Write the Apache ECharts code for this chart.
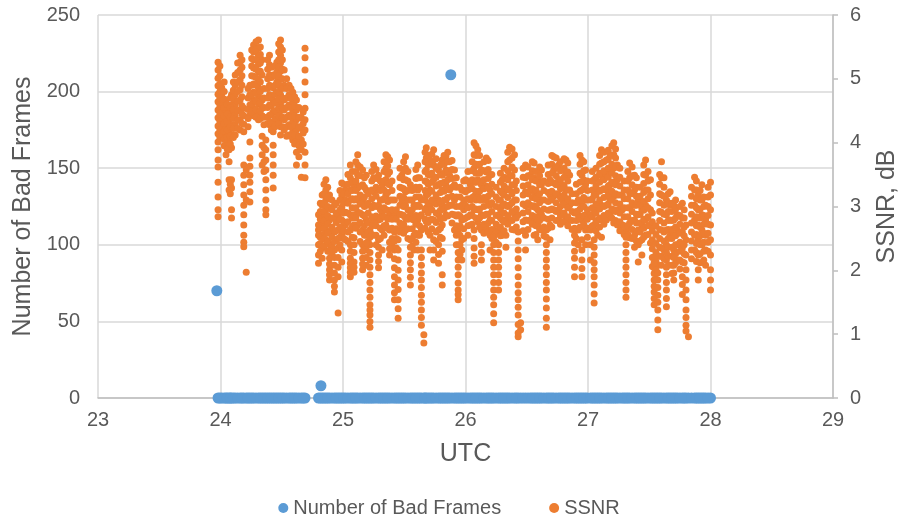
<!DOCTYPE html>
<html><head><meta charset="utf-8">
<script src="https://cdn.jsdelivr.net/npm/echarts/dist/echarts.min.js"></script>
<style>html,body{margin:0;padding:0;background:#fff}#c{width:898px;height:525px}</style>
</head><body><div id="c"></div>
<script>
// x axis ticks (UTC day)
const xTicks = [23, 24, 25, 26, 27, 28, 29];
const leftTicks = [0, 50, 100, 150, 200, 250];
const rightTicks = [0, 1, 2, 3, 4, 5, 6];

// Number of Bad Frames: non-zero samples (all other samples are 0)
const badFramesNonZero = [[23.97, 70], [24.82, 8], [25.88, 211]];

// SSNR, dB samples grouped as [time, [values...]]
const ssnrDay24 = [
[23.98,[5.26,5.14,5.01,4.89,4.76,4.64,4.51,4.39,4.26,4.14,4.01,3.89,3.73,3.62,3.38,3.15,2.95,2.84]],
[24.01,[4.86,4.73,4.61,4.48,4.36,4.23,4.10]],
[24.045,[4.67,4.51,4.39,4.26,4.14,3.96,3.81]],
[24.07,[4.48,4.32,4.17,4.01,3.89,3.70,3.42,3.26]],
[24.09,[4.75,4.59,4.43,4.28,4.12,3.92,3.42,3.29,2.95,2.82]],
[24.12,[5.06,4.90,4.75,4.59,4.43,4.28,4.12]],
[24.16,[5.37,5.26,5.14,4.98,4.83,4.67,4.51,4.36,4.20]],
[24.19,[4.54,4.42,4.29,4.17,3.65,3.49,3.34,3.18,3.02,2.87,2.71,2.55,2.44,2.37]],
[24.21,[3.57,3.10,1.97]],
[24.24,[4.90,4.75,4.59,4.43,4.01,3.76,3.63,3.49,3.38,3.23,3.07]],
[24.27,[5.53,5.42,5.30,5.17,5.04,4.92,4.79,4.67,4.54,4.42]],
[24.31,[5.61,5.48,5.36,5.23,5.11,4.98,4.86,4.73,4.61,4.48,4.36]],
[24.34,[5.30,5.06,4.67,4.54,4.42,4.10,3.96,3.81,3.65]],
[24.37,[4.04,3.89,3.73,3.57,3.42,3.26,3.10,2.95,2.87]],
[24.40,[5.37,5.22,5.06,4.90,4.75,4.59,4.43,4.28]],
[24.43,[5.06,4.86,4.67,4.48,4.29,4.17,3.96,3.81,3.65,3.49,3.29]],
[24.46,[5.26,5.11,4.95,4.79,4.64,4.48,4.32]],
[24.49,[5.61,5.50,5.37,5.25,5.12,5.00,4.87,4.75,4.62,4.50,4.37,4.25,4.12]],
[24.52,[5.14,4.90,4.67,4.51,4.36,4.20]],
[24.56,[4.90,4.75,4.59,4.43,4.28,4.12]],
[24.59,[4.79,4.64,4.48,4.32,4.17,4.04]],
[24.62,[4.67,4.51,4.36,4.20,4.04,3.85,3.65]],
[24.66,[4.39,4.23,4.04,3.89,3.46]],
[24.69,[5.48,5.33,5.14,4.95,4.75,4.54,4.36,4.20,3.85,3.65,3.45]]
];
const ssnrDay24b = [
[23.995,[5.20,5.05,4.92,4.80,4.70,4.58,4.45,4.33,4.20,4.08]],
[24.03,[4.95,4.80,4.68,4.55,4.42,4.30,4.18,4.05,3.95]],
[24.055,[4.60,4.45,4.33,4.20,4.08,3.90]],
[24.08,[4.70,4.55,4.40,4.25,4.10,3.98,3.35,3.20]],
[24.105,[4.95,4.82,4.68,4.52,4.38,4.22,4.08]],
[24.14,[5.25,5.10,4.95,4.80,4.65,4.50,4.35,4.22]],
[24.175,[5.30,5.18,5.05,4.90,4.72,4.58,4.45,4.30]],
[24.225,[4.85,4.70,4.52,4.38,4.25]],
[24.255,[5.45,5.32,5.20,5.05,4.90,4.75,4.60,4.48]],
[24.29,[5.58,5.45,5.30,5.15,5.02,4.90,4.78,4.65,4.52,4.40]],
[24.325,[5.50,5.38,5.25,5.12,4.95,4.80,4.62,4.50,4.38]],
[24.355,[4.85,4.70,4.55,4.40,4.28,3.92,3.70,3.55]],
[24.385,[5.30,5.15,5.00,4.85,4.70,4.55,4.40,4.30]],
[24.415,[5.18,5.02,4.88,4.72,4.58,4.44,4.32,4.20]],
[24.445,[5.20,5.05,4.90,4.76,4.62,4.50,4.38,4.25]],
[24.475,[5.55,5.42,5.30,5.18,5.05,4.92,4.80,4.68,4.55,4.42,4.30]],
[24.505,[5.45,5.30,5.15,5.00,4.85,4.70,4.55,4.40,4.25]],
[24.54,[5.00,4.85,4.70,4.55,4.40,4.25,4.10]],
[24.575,[4.85,4.70,4.55,4.40,4.25,4.10]],
[24.605,[4.72,4.58,4.42,4.28,4.12,3.98]],
[24.64,[4.55,4.40,4.25,4.10,3.95,3.78]],
[24.675,[4.48,4.30,4.15,3.98]]
];
const ssnrDay25 = [
[24.80,[2.87,2.71,2.63,2.55,2.40,2.24,2.11]],
[24.83,[3.18,3.02,2.87,2.71,2.55,2.35,2.19]],
[24.86,[3.42,3.26,3.10,2.95,2.79,2.63,2.48]],
[24.89,[3.18,2.98,2.79,2.60,2.40,2.19,2.01,1.85]],
[24.93,[3.02,2.82,2.60,2.32,2.08,1.85,1.66]],
[24.96,[2.87,2.63,2.35,1.33]],
[24.99,[3.37,3.18,2.99,2.79,2.55,2.32,2.13]],
[25.02,[3.26,3.10,2.91,2.71,2.48]],
[25.06,[3.65,3.45,3.26,3.10,2.87,2.63,2.19,2.04,1.90]],
[25.09,[3.34,3.10,2.87,2.71,2.51,2.13,1.97]],
[25.12,[3.81,3.65,3.49,3.29,3.10,2.91,2.71]],
[25.16,[3.57,3.34,3.10,2.87,2.63,2.40,2.19,2.01]],
[25.19,[3.49,3.26,3.02,2.79,2.55,2.32,2.08]],
[25.22,[2.63,2.40,2.16,1.93,1.69,1.46,1.30,1.11]],
[25.25,[3.65,3.45,3.23,3.02,2.79,2.55]],
[25.29,[3.49,3.26,3.02,2.79,2.48,2.24,2.04]],
[25.32,[3.34,3.10,2.87,2.63,2.32]],
[25.35,[3.81,3.60,3.42,3.18,2.95,2.71]],
[25.38,[3.73,3.54,3.34,3.10,2.87,2.63,2.24]],
[25.42,[3.10,2.87,2.60,2.32,2.04,1.77,1.54]],
[25.45,[2.48,2.16,1.85,1.54,1.25]],
[25.48,[3.49,3.29,3.10,2.87,2.66]],
[25.51,[3.78,3.60,3.42,3.23,3.02,2.82,2.63]],
[25.55,[3.34,3.10,2.87,2.48,2.24,2.01,1.77]],
[25.58,[3.02,2.79,2.55,2.32]],
[25.61,[3.65,3.45,3.26,3.02,2.79,2.55,2.32]],
[25.64,[3.10,2.87,2.63,2.32,2.08,1.85,1.61,1.38,1.14]],
[25.66,[0.99,0.86]],
[25.68,[3.92,3.76,3.57,3.39,3.18,2.98,2.76]],
[25.71,[3.73,3.49,3.26,3.02,2.79,2.55,2.32]],
[25.74,[3.89,3.65,3.42,3.10,2.79,2.48,2.16]],
[25.78,[3.57,3.34,3.10,2.87,2.63,2.40,2.11]],
[25.81,[3.73,3.49,3.26,3.02,2.71,1.93,1.77]],
[25.84,[3.78,3.57,3.34,3.10,2.87]],
[25.87,[3.70,3.49,3.26,3.02]],
[25.91,[3.57,3.34,3.10,2.87,2.63]],
[25.94,[2.87,2.63,2.40,2.16,1.93,1.69,1.54]],
[25.97,[3.26,3.02,2.79,2.48,2.16]]
];
const ssnrDay25b = [
[24.815,[3.05,2.92,2.80,2.66,2.52,2.42,2.30]],
[24.845,[3.35,3.20,3.05,2.92,2.78,2.65,2.50,2.38]],
[24.875,[3.30,3.15,3.00,2.86,2.72,2.58,2.45,2.30]],
[24.91,[3.10,2.95,2.82,2.68,2.52,2.38,2.25]],
[24.945,[3.05,2.90,2.75,2.62,2.48]],
[24.975,[3.25,3.10,2.95,2.80,2.68,2.52,2.40]],
[25.005,[3.35,3.20,3.05,2.90,2.76,2.62,2.50]],
[25.04,[3.50,3.35,3.20,3.05,2.90,2.76,2.60,2.45]],
[25.075,[3.55,3.40,3.25,3.12,2.98,2.82,2.68,2.52]],
[25.105,[3.70,3.55,3.40,3.25,3.12,2.98,2.82,2.66]],
[25.14,[3.62,3.48,3.32,3.18,3.04,2.90,2.75,2.60,2.45]],
[25.175,[3.45,3.30,3.15,3.00,2.85,2.70,2.55,2.40]],
[25.205,[3.20,3.05,2.90,2.75,2.60,2.45]],
[25.235,[3.55,3.40,3.26,3.12,2.98,2.84,2.70,2.56]],
[25.27,[3.58,3.44,3.30,3.16,3.00,2.85,2.70,2.55,2.40]],
[25.305,[3.40,3.25,3.10,2.95,2.80,2.66,2.50]],
[25.335,[3.70,3.55,3.40,3.26,3.12,2.98,2.84,2.70,2.55]],
[25.365,[3.78,3.64,3.50,3.36,3.22,3.08,2.94,2.80,2.66]],
[25.40,[3.40,3.25,3.10,2.95,2.80,2.66,2.50,2.38]],
[25.435,[2.95,2.80,2.65,2.50,2.35]],
[25.465,[3.60,3.45,3.30,3.16,3.02,2.88,2.74,2.60]],
[25.495,[3.70,3.56,3.42,3.28,3.14,3.00,2.86,2.72,2.58]],
[25.53,[3.55,3.40,3.25,3.10,2.95,2.80,2.65,2.50]],
[25.565,[3.25,3.10,2.95,2.80,2.65,2.50,2.38]],
[25.595,[3.58,3.44,3.30,3.15,3.00,2.86,2.72,2.58,2.44]],
[25.625,[3.45,3.30,3.15,3.00,2.85,2.70,2.55]],
[25.67,[3.85,3.70,3.55,3.40,3.25,3.10,2.95,2.80,2.66]],
[25.695,[3.80,3.65,3.50,3.35,3.20,3.05,2.90,2.75,2.60]],
[25.725,[3.82,3.68,3.52,3.38,3.24,3.10,2.95,2.80,2.65]],
[25.76,[3.75,3.60,3.46,3.32,3.18,3.04,2.90,2.75,2.60,2.45]],
[25.795,[3.65,3.50,3.36,3.22,3.08,2.94,2.80,2.66,2.52]],
[25.825,[3.80,3.66,3.52,3.38,3.24,3.10,2.96,2.82]],
[25.855,[3.85,3.70,3.56,3.42,3.28,3.14,3.00,2.85]],
[25.89,[3.72,3.58,3.44,3.30,3.16,3.02,2.88,2.74]],
[25.925,[3.45,3.30,3.15,3.00,2.85,2.70,2.55,2.40]],
[25.955,[3.30,3.15,3.00,2.85,2.70,2.55,2.40,2.25]],
[25.985,[3.40,3.25,3.10,2.95,2.80,2.65,2.50]]
];
const ssnrDay26 = [
[26.00,[3.42,3.23,3.02,2.82]],
[26.04,[3.34,3.10,2.87,2.71]],
[26.07,[4.00,3.81,3.60,3.38,3.16,2.95,2.63,2.11]],
[26.10,[3.89,3.65,3.42,3.18,2.95,2.76]],
[26.13,[3.57,3.34,3.10,2.87,2.63,2.40,2.16]],
[26.17,[3.76,3.54,3.32,3.10,2.88,2.66]],
[26.20,[3.49,3.26,3.02,2.79,2.55,2.32]],
[26.23,[2.63,2.40,2.16,1.93,1.69,1.46,1.18]],
[26.27,[3.10,2.87,2.63,2.40,2.16,1.93,1.69]],
[26.30,[3.42,3.21,3.01,2.79,2.55]],
[26.33,[3.26,3.02,2.79,2.55,2.36]],
[26.36,[3.93,3.73,3.49,3.26,3.02,2.79]],
[26.40,[3.81,3.57,3.34,3.10,2.87,2.63]],
[26.43,[2.87,2.60,2.32,2.04,1.77,1.54,1.30,0.96]],
[26.45,[1.18,1.07]],
[26.49,[3.65,3.45,3.23,3.01,2.79,2.55,2.32]],
[26.53,[3.49,3.26,3.02,2.79]],
[26.56,[3.68,3.45,3.23,3.01,2.79,2.55]],
[26.59,[3.42,3.18,2.95,2.71,2.48]],
[26.62,[3.57,3.34,3.10,2.87,2.63]],
[26.66,[2.63,2.40,2.16,1.93,1.69,1.41,1.11]],
[26.69,[3.42,3.18,2.95,2.71,2.48]],
[26.72,[3.78,3.57,3.37,3.16,2.95]],
[26.76,[3.65,3.42,3.18,2.95,2.79]],
[26.79,[3.57,3.34,3.10,2.87]],
[26.82,[3.73,3.49,3.26,3.02,2.82]],
[26.85,[3.49,3.26,3.02,2.79]],
[26.89,[2.90,2.66,2.43,2.19,1.90]],
[26.92,[3.10,2.87,2.63,2.40]],
[26.95,[3.73,3.49,3.26,3.02,2.79,2.48,2.16,1.90]],
[26.98,[3.57,3.34,3.10,2.87,2.63,2.40]]
];
const ssnrDay26b = [
[26.02,[3.55,3.40,3.26,3.12,2.98,2.84,2.70,2.55]],
[26.055,[3.70,3.56,3.42,3.28,3.14,3.00,2.86,2.72]],
[26.085,[3.95,3.80,3.66,3.52,3.38,3.24,3.10,2.96,2.82]],
[26.115,[3.80,3.66,3.52,3.38,3.24,3.10,2.96,2.82,2.68]],
[26.15,[3.70,3.56,3.42,3.28,3.14,3.00,2.86,2.72,2.58]],
[26.185,[3.72,3.58,3.44,3.30,3.16,3.02,2.88,2.74,2.60]],
[26.215,[3.50,3.35,3.20,3.06,2.92,2.78,2.64,2.50]],
[26.25,[3.30,3.15,3.00,2.86,2.72,2.58,2.44]],
[26.285,[3.52,3.38,3.24,3.10,2.96,2.82,2.68,2.54]],
[26.315,[3.60,3.46,3.32,3.18,3.04,2.90,2.76,2.62]],
[26.345,[3.85,3.70,3.56,3.42,3.28,3.14,3.00,2.86,2.72]],
[26.38,[3.90,3.76,3.62,3.48,3.34,3.20,3.06,2.92,2.78,2.64]],
[26.415,[3.40,3.25,3.10,2.96,2.82,2.68]],
[26.47,[3.60,3.46,3.32,3.18,3.04,2.90,2.76,2.62]],
[26.51,[3.62,3.48,3.34,3.20,3.06,2.92,2.78,2.64]],
[26.545,[3.70,3.56,3.42,3.28,3.14,3.00,2.86,2.72]],
[26.575,[3.55,3.40,3.26,3.12,2.98,2.84,2.70,2.56]],
[26.605,[3.62,3.48,3.34,3.20,3.06,2.92,2.78,2.64]],
[26.64,[3.40,3.25,3.10,2.96,2.82,2.68,2.54]],
[26.675,[3.65,3.50,3.36,3.22,3.08,2.94,2.80,2.66]],
[26.705,[3.80,3.66,3.52,3.38,3.24,3.10,2.96,2.82,2.68]],
[26.74,[3.76,3.62,3.48,3.34,3.20,3.06,2.92,2.78]],
[26.775,[3.70,3.56,3.42,3.28,3.14,3.00,2.86,2.72]],
[26.805,[3.75,3.60,3.46,3.32,3.18,3.04,2.90,2.76]],
[26.835,[3.68,3.54,3.40,3.26,3.12,2.98,2.84,2.70]],
[26.87,[3.20,3.06,2.92,2.78,2.64]],
[26.905,[3.35,3.20,3.06,2.92,2.78,2.64,2.50]],
[26.935,[3.80,3.66,3.52,3.38,3.24,3.10,2.96,2.82,2.68]],
[26.965,[3.70,3.56,3.42,3.28,3.14,3.00,2.86,2.72]],
[26.995,[3.40,3.25,3.10,2.95,2.80,2.66,2.52]]
];
const ssnrDay27 = [
[27.02,[3.10,2.87,2.63,2.40,2.16]],
[27.05,[3.42,3.18,2.95,2.71,2.48,2.24,2.01,1.77,1.49]],
[27.08,[3.26,3.02,2.79,2.55]],
[27.11,[3.89,3.68,3.48,3.26,3.02,2.79,2.52]],
[27.15,[3.73,3.49,3.26,3.02,2.79]],
[27.18,[3.81,3.57,3.34,3.10,2.87]],
[27.21,[4.00,3.81,3.60,3.38,3.16,2.95,2.74]],
[27.24,[3.65,3.42,3.18,2.95,2.71]],
[27.28,[3.18,2.95,2.71]],
[27.31,[2.63,2.40,2.16,1.93,1.69,1.58]],
[27.34,[3.68,3.45,3.21,2.98,2.74,2.51]],
[27.38,[3.49,3.26,3.02,2.79,2.55,2.36]],
[27.41,[3.10,2.87,2.63,2.40,2.13]],
[27.44,[2.95,2.71,2.48,2.24]],
[27.47,[3.73,3.49,3.26,3.02,2.79,2.55]],
[27.51,[3.42,3.18,2.95,2.71,2.43]],
[27.54,[2.21,2.04,1.85,1.66,1.46]],
[27.57,[2.08,1.85,1.61,1.38,1.07]],
[27.60,[3.70,3.45,3.18,2.91,2.63,2.35,2.08]],
[27.64,[3.10,2.87,2.63,2.40,2.16,1.93,1.69,1.43]],
[27.67,[3.23,3.02,2.79,2.55]],
[27.70,[3.02,2.79,2.55,2.32,2.08,1.85]],
[27.73,[2.87,2.63,2.40,2.16]],
[27.77,[3.05,2.82,2.60,2.35,2.13,1.90]],
[27.80,[2.71,2.48,2.24,2.01,1.69,1.38,1.14]],
[27.82,[0.96]],
[27.87,[3.46,3.26,3.02,2.79,2.55,2.32]],
[27.90,[3.18,2.95,2.71,2.48,2.24,2.01,1.85]],
[27.93,[3.34,3.10,2.87,2.63,2.40]],
[27.96,[3.02,2.79,2.55,2.32,2.08]],
[28.00,[3.38,3.18,2.95,2.71,2.48,2.24,2.01,1.69]]
];
const ssnrDay27b = [
[27.035,[3.55,3.40,3.26,3.12,2.98,2.84,2.70]],
[27.065,[3.60,3.46,3.32,3.18,3.04,2.90,2.76,2.62]],
[27.095,[3.80,3.66,3.52,3.38,3.24,3.10,2.96,2.82,2.68]],
[27.13,[3.85,3.70,3.56,3.42,3.28,3.14,3.00,2.86,2.72]],
[27.165,[3.88,3.74,3.60,3.46,3.32,3.18,3.04,2.90]],
[27.195,[3.95,3.80,3.66,3.52,3.38,3.24,3.10,2.96,2.82]],
[27.225,[3.90,3.76,3.62,3.48,3.34,3.20,3.06,2.92,2.78]],
[27.26,[3.60,3.46,3.32,3.18,3.04,2.90,2.76,2.62]],
[27.295,[3.40,3.26,3.12,2.98,2.84,2.70,2.56]],
[27.325,[3.55,3.40,3.26,3.12,2.98,2.84,2.70,2.56]],
[27.36,[3.62,3.48,3.34,3.20,3.06,2.92,2.78,2.64,2.50]],
[27.395,[3.45,3.30,3.16,3.02,2.88,2.74,2.60,2.46]],
[27.425,[3.30,3.16,3.02,2.88,2.74,2.60,2.46]],
[27.455,[3.65,3.50,3.36,3.22,3.08,2.94,2.80,2.66,2.52]],
[27.49,[3.55,3.40,3.26,3.12,2.98,2.84,2.70,2.56]],
[27.525,[2.90,2.76,2.62,2.48,2.34,2.20,2.06]],
[27.555,[2.70,2.56,2.42,2.28,2.14,2.00,1.86]],
[27.585,[3.50,3.35,3.20,3.06,2.92,2.78,2.64,2.50,2.36,2.22]],
[27.62,[3.45,3.30,3.16,3.02,2.88,2.74,2.60,2.46,2.32,2.18]],
[27.655,[3.20,3.06,2.92,2.78,2.64,2.50,2.36,2.22,2.08]],
[27.685,[3.05,2.92,2.78,2.64,2.50,2.36,2.22,2.08,1.95]],
[27.715,[3.10,2.96,2.82,2.68,2.54,2.40,2.26,2.12]],
[27.75,[3.00,2.86,2.72,2.58,2.44,2.30,2.16,2.02]],
[27.785,[2.95,2.82,2.68,2.54,2.40,2.26,2.12]],
[27.845,[3.30,3.16,3.02,2.88,2.74,2.60,2.46,2.32,2.18]],
[27.885,[3.40,3.26,3.12,2.98,2.84,2.70,2.56,2.42,2.28,2.14]],
[27.915,[3.25,3.10,2.96,2.82,2.68,2.54,2.40,2.26,2.12]],
[27.945,[3.15,3.00,2.86,2.72,2.58,2.44,2.30,2.16]],
[27.98,[3.30,3.15,3.00,2.86,2.72,2.58,2.44,2.30]]
];
// extra samples read along the long downward runs (low-SSNR dips)
const ssnrLowRuns = [
[24.89,[2.30,2.10,1.93]],
[24.93,[2.45,2.20,1.96,1.75]],
[24.96,[2.50,2.20,2.05,1.90]],
[25.06,[2.40,2.30,2.11,1.97]],
[25.09,[2.40,2.28,2.05]],
[25.16,[2.30,2.10]],
[25.19,[2.43,2.20]],
[25.22,[2.52,2.28,2.05,1.81,1.58,1.38,1.20]],
[25.29,[2.36,2.14]],
[25.38,[2.44,2.34]],
[25.42,[2.46,2.18,1.90,1.65]],
[25.45,[2.32,2.00,1.70,1.40]],
[25.55,[2.36,2.12,1.89]],
[25.64,[2.20,1.96,1.73,1.50,1.26]],
[25.74,[2.32]],
[25.78,[2.25]],
[25.81,[2.50,2.30]],
[25.94,[2.28,2.05,1.80,1.62]],
[25.97,[2.32]],
[26.07,[2.50,2.35,2.22]],
[26.13,[2.28]],
[26.23,[2.52,2.28,2.05,1.81,1.58,1.32]],
[26.27,[2.28,2.05,1.81]],
[26.43,[2.46,2.18,1.90,1.65,1.42,1.15,1.02]],
[26.66,[2.52,2.28,2.05,1.81,1.55,1.25]],
[26.89,[2.55,2.30,2.05]],
[26.95,[2.32,2.03]],
[27.05,[2.36,2.12,1.90,1.63]],
[27.31,[2.52,2.28,2.05,1.81]],
[27.54,[2.12,1.95,1.75,1.56]],
[27.57,[1.96,1.73,1.50,1.22]],
[27.60,[2.22]],
[27.64,[2.28,2.05,1.81,1.56]],
[27.70,[2.20,1.96]],
[27.77,[1.78,1.62]],
[27.80,[1.85,1.54,1.26,1.05]],
[28.00,[1.85]]
];

const ssnrGroups = [].concat(ssnrDay24, ssnrDay24b, ssnrDay25, ssnrDay25b, ssnrDay26, ssnrDay26b, ssnrDay27, ssnrDay27b);
const ssnrPoints = [];
ssnrGroups.concat(ssnrLowRuns).forEach(g => g[1].forEach(v => ssnrPoints.push([g[0], v])));
const badPoints = ssnrGroups.map(g => [g[0], 0]).concat(badFramesNonZero);

const FONT = 'Liberation Sans, Arial, sans-serif';
const TXT = '#595959';
const chart = echarts.init(document.getElementById('c'), null, {renderer: 'canvas'});
chart.setOption({
  animation: false,
  backgroundColor: '#fff',
  grid: {left: 98, right: 65, top: 15, bottom: 127, containLabel: false, outerBoundsMode: 'none'},
  legend: {
    bottom: 2, left: 'center', itemGap: 48, itemWidth: 10, itemHeight: 10,
    icon: 'circle',
    textStyle: {fontFamily: FONT, fontSize: 20, color: TXT},
    data: ['Number of Bad Frames', 'SSNR']
  },
  xAxis: {
    type: 'value', min: xTicks[0], max: xTicks[xTicks.length - 1], interval: 1,
    name: 'UTC', nameLocation: 'middle', nameGap: 44,
    nameTextStyle: {fontFamily: FONT, fontSize: 25, color: TXT},
    axisLine: {show: true, lineStyle: {color: '#BFBFBF', width: 1.5}},
    axisTick: {show: false},
    axisLabel: {fontFamily: FONT, fontSize: 20, color: TXT, margin: 12},
    splitLine: {show: true, lineStyle: {color: '#D9D9D9', width: 1.5}}
  },
  yAxis: [{
    type: 'value', min: leftTicks[0], max: leftTicks[leftTicks.length - 1], interval: 50,
    name: 'Number of Bad Frames', nameLocation: 'middle', nameGap: 62, nameRotate: 90,
    nameTextStyle: {fontFamily: FONT, fontSize: 25, color: TXT},
    axisLine: {show: false}, axisTick: {show: false},
    axisLabel: {fontFamily: FONT, fontSize: 20, color: TXT, margin: 18},
    splitLine: {show: true, lineStyle: {color: '#D9D9D9', width: 1.5}}
  }, {
    type: 'value', min: rightTicks[0], max: rightTicks[rightTicks.length - 1], interval: 1,
    name: 'SSNR, dB', nameLocation: 'middle', nameGap: 42, nameRotate: 90,
    nameTextStyle: {fontFamily: FONT, fontSize: 25, color: TXT},
    axisLine: {show: true, lineStyle: {color: '#BFBFBF', width: 1.5}},
    axisTick: {show: true, length: 5, lineStyle: {color: '#BFBFBF', width: 1.5}},
    axisLabel: {fontFamily: FONT, fontSize: 20, color: TXT, margin: 17},
    splitLine: {show: false}
  }],
  series: [{
    name: 'Number of Bad Frames', type: 'scatter', yAxisIndex: 0,
    symbol: 'circle', symbolSize: 11,
    itemStyle: {color: '#5B9BD5', opacity: 1},
    emphasis: {disabled: true},
    data: badPoints
  }, {
    name: 'SSNR', type: 'scatter', yAxisIndex: 1,
    symbol: 'circle', symbolSize: 7,
    itemStyle: {color: '#ED7D31', opacity: 1},
    emphasis: {disabled: true},
    data: ssnrPoints
  }]
});
</script></body></html>
